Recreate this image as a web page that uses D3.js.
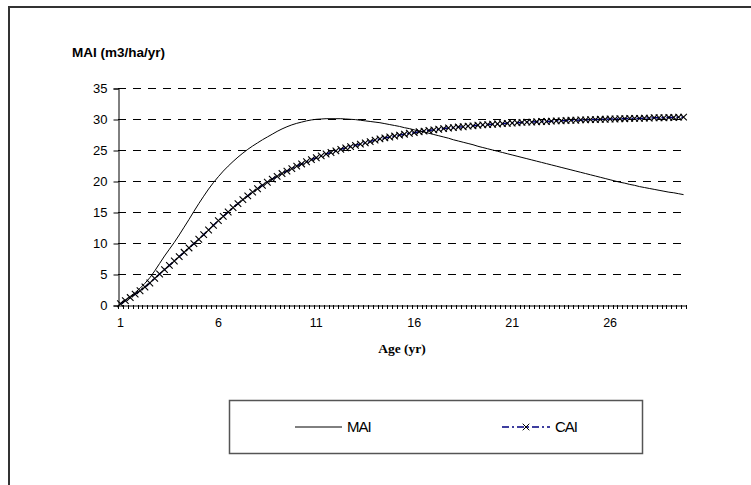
<!DOCTYPE html>
<html>
<head>
<meta charset="utf-8">
<script src="https://cdn.jsdelivr.net/npm/d3@7"></script>
<style>
  body { margin: 0; background: #fff; }
  text { font-family: "Liberation Sans", Arial, sans-serif; }
</style>
</head>
<body>
<svg id="thesvg" width="751" height="485"></svg>
<script>
var ages = [1, 1.25, 1.5, 1.75, 2, 2.25, 2.5, 2.75, 3, 3.25, 3.5, 3.75, 4, 4.25, 4.5, 4.75, 5, 5.25, 5.5, 5.75,
            6, 6.25, 6.5, 6.75, 7, 7.25, 7.5, 7.75, 8, 8.25, 8.5, 8.75, 9, 9.25, 9.5, 9.75, 10, 10.25, 10.5, 10.75,
            11, 11.25, 11.5, 11.75, 12, 12.25, 12.5, 12.75, 13, 13.25, 13.5, 13.75, 14, 14.25, 14.5, 14.75, 15, 15.25, 15.5, 15.75,
            16, 16.25, 16.5, 16.75, 17, 17.25, 17.5, 17.75, 18, 18.25, 18.5, 18.75, 19, 19.25, 19.5, 19.75, 20, 20.25, 20.5, 20.75,
            21, 21.25, 21.5, 21.75, 22, 22.25, 22.5, 22.75, 23, 23.25, 23.5, 23.75, 24, 24.25, 24.5, 24.75, 25, 25.25, 25.5, 25.75,
            26, 26.25, 26.5, 26.75, 27, 27.25, 27.5, 27.75, 28, 28.25, 28.5, 28.75, 29, 29.25, 29.5, 29.75];

var mai = [0.3, 0.8, 1.4, 2.0, 2.7, 3.5, 4.4, 5.5, 6.7, 7.9, 9.0, 10.1, 11.3, 12.55, 13.8, 15.1, 16.35, 17.55, 18.7, 19.75,
           20.7, 21.6, 22.4, 23.15, 23.85, 24.5, 25.1, 25.65, 26.15, 26.65, 27.1, 27.55, 28.0, 28.4, 28.75, 29.05, 29.3, 29.5, 29.7, 29.85,
           29.95, 30.0, 30.05, 30.05, 30.05, 30.05, 30.0, 29.95, 29.9, 29.8, 29.7, 29.6, 29.5, 29.4, 29.25, 29.1, 28.95, 28.8, 28.6, 28.45,
           28.25, 28.05, 27.9, 27.7, 27.5, 27.3, 27.1, 26.9, 26.65, 26.45, 26.25, 26.05, 25.85, 25.6, 25.4, 25.2, 25.0, 24.8, 24.6, 24.4,
           24.2, 24.0, 23.8, 23.6, 23.4, 23.2, 23.0, 22.8, 22.6, 22.4, 22.2, 22.0, 21.8, 21.6, 21.4, 21.2, 21.0, 20.8, 20.6, 20.4,
           20.2, 20.0, 19.8, 19.65, 19.45, 19.3, 19.1, 18.95, 18.8, 18.65, 18.5, 18.35, 18.2, 18.1, 17.95, 17.8];

var cai = [0.2, 0.7, 1.2, 1.75, 2.3, 2.9, 3.55, 4.3, 5.0, 5.7, 6.4, 7.1, 7.8, 8.5, 9.2, 9.9, 10.6, 11.35, 12.1, 12.85,
           13.6, 14.3, 15.0, 15.7, 16.35, 17.0, 17.6, 18.2, 18.75, 19.3, 19.8, 20.3, 20.75, 21.2, 21.6, 22.0, 22.4, 22.75, 23.1, 23.45,
           23.75, 24.05, 24.35, 24.6, 24.85, 25.1, 25.35, 25.55, 25.75, 25.95, 26.15, 26.35, 26.6, 26.8, 26.95, 27.1, 27.25, 27.4, 27.55, 27.7,
           27.8, 27.95, 28.05, 28.15, 28.25, 28.35, 28.45, 28.55, 28.6, 28.7, 28.75, 28.85, 28.9, 29.0, 29.05, 29.1, 29.15, 29.2, 29.25, 29.3,
           29.35, 29.4, 29.45, 29.5, 29.5, 29.55, 29.6, 29.6, 29.65, 29.7, 29.7, 29.75, 29.8, 29.8, 29.85, 29.85, 29.9, 29.9, 29.95, 29.95,
           30.0, 30.0, 30.05, 30.05, 30.1, 30.1, 30.1, 30.15, 30.15, 30.2, 30.2, 30.2, 30.25, 30.25, 30.3, 30.3];

var yTicks = [0, 5, 10, 15, 20, 25, 30, 35];
var labelEvery = 20;
var names = ["MAI", "CAI"];

var svg = d3.select("#thesvg");

// outer chart border (runs off the right and bottom of the picture)
svg.append("rect")
    .attr("x", 9).attr("y", 7)
    .attr("width", 780).attr("height", 520)
    .attr("fill", "none")
    .attr("stroke", "#333")
    .attr("stroke-width", 2);

var pLeft = 118, pRight = 686, pTop = 88, pBottom = 305;

var xScale = d3.scaleBand()
    .domain(ages.map(String))
    .range([pLeft, pRight])
    .paddingInner(0).paddingOuter(0);
var bw = xScale.bandwidth();
function px(i) { return xScale(String(ages[i])) + bw / 2; }

var yScale = d3.scaleLinear()
    .domain([0, 35])
    .range([pBottom, pTop]);

// dashed gridlines
svg.append("g").selectAll("line")
    .data(yTicks.slice(1))
    .enter().append("line")
    .attr("x1", pLeft).attr("x2", pRight)
    .attr("y1", d => yScale(d) + 0.5).attr("y2", d => yScale(d) + 0.5)
    .attr("stroke", "#000")
    .attr("stroke-dasharray", "8,7");

// y axis
var yAxis = d3.axisLeft(yScale).tickValues(yTicks).tickSize(5).tickPadding(6);
var yg = svg.append("g")
    .attr("transform", "translate(" + (pLeft + 0.5) + ",0.5)")
    .call(yAxis);
yg.select(".domain").attr("stroke", "#000");
yg.selectAll("text").style("font-size", "13px").attr("fill", "#000");

// x axis: labels every 20th category
var xAxis = d3.axisBottom(xScale)
    .tickValues(ages.filter((d, i) => i % labelEvery === 0).map(String))
    .tickSize(0).tickPadding(13);
var xg = svg.append("g")
    .attr("transform", "translate(0," + (pBottom + 0.5) + ")")
    .call(xAxis);
xg.select(".domain").attr("stroke", "#000");
xg.selectAll("text").style("font-size", "12.5px").attr("fill", "#000");

// minor ticks at every category boundary
var bounds = ages.map(d => xScale(String(d))).concat([pRight]);
svg.append("g").selectAll("line")
    .data(bounds)
    .enter().append("line")
    .attr("x1", d => Math.round(d) + 0.5).attr("x2", d => Math.round(d) + 0.5)
    .attr("y1", pBottom).attr("y2", pBottom + 4)
    .attr("stroke", "#000");

// series
var line = d3.line()
    .x((d, i) => px(i))
    .y(d => yScale(d));

svg.append("path")
    .datum(cai)
    .attr("d", line)
    .attr("fill", "none")
    .attr("stroke", "#000080")
    .attr("stroke-width", 1.5)
    .attr("stroke-dasharray", "7,3,2,3");

var ms = 3.3;
function cross(cx, cy) {
    return "M" + (cx - ms) + "," + (cy - ms) + "L" + (cx + ms) + "," + (cy + ms) +
           "M" + (cx - ms) + "," + (cy + ms) + "L" + (cx + ms) + "," + (cy - ms);
}
svg.append("g").selectAll("path")
    .data(cai)
    .enter().append("path")
    .attr("d", (v, i) => cross(px(i), yScale(v)))
    .attr("stroke", "#000")
    .attr("stroke-width", 1.1)
    .attr("fill", "none");

svg.append("path")
    .datum(mai)
    .attr("d", line)
    .attr("fill", "none")
    .attr("stroke", "#000")
    .attr("stroke-width", 1);

// titles
svg.append("text")
    .attr("x", 72).attr("y", 57)
    .style("font-size", "13.5px")
    .style("font-weight", "bold")
    .text("MAI (m3/ha/yr)");

svg.append("text")
    .attr("x", 402).attr("y", 353)
    .attr("text-anchor", "middle")
    .style("font-family", "'Liberation Serif', 'Times New Roman', serif")
    .style("font-size", "13.5px")
    .style("font-weight", "bold")
    .text("Age (yr)");

// legend
svg.append("rect")
    .attr("x", 229.5).attr("y", 400.5)
    .attr("width", 413).attr("height", 53)
    .attr("fill", "#fff")
    .attr("stroke", "#555")
    .attr("stroke-width", 1.5);

var ly = 427;
svg.append("line")
    .attr("x1", 295).attr("x2", 342).attr("y1", ly).attr("y2", ly)
    .attr("stroke", "#000");
svg.append("text")
    .attr("x", 347).attr("y", ly + 5)
    .style("font-size", "15px")
    .style("letter-spacing", "-1px")
    .text(names[0]);

svg.append("line")
    .attr("x1", 502).attr("x2", 550).attr("y1", ly).attr("y2", ly)
    .attr("stroke", "#000080")
    .attr("stroke-width", 1.5)
    .attr("stroke-dasharray", "7,3,2,3");
svg.append("path")
    .attr("d", cross(526, ly))
    .attr("stroke", "#000")
    .attr("fill", "none");
svg.append("text")
    .attr("x", 555).attr("y", ly + 5)
    .style("font-size", "15px")
    .style("letter-spacing", "-1px")
    .text(names[1]);
</script>
</body>
</html>
